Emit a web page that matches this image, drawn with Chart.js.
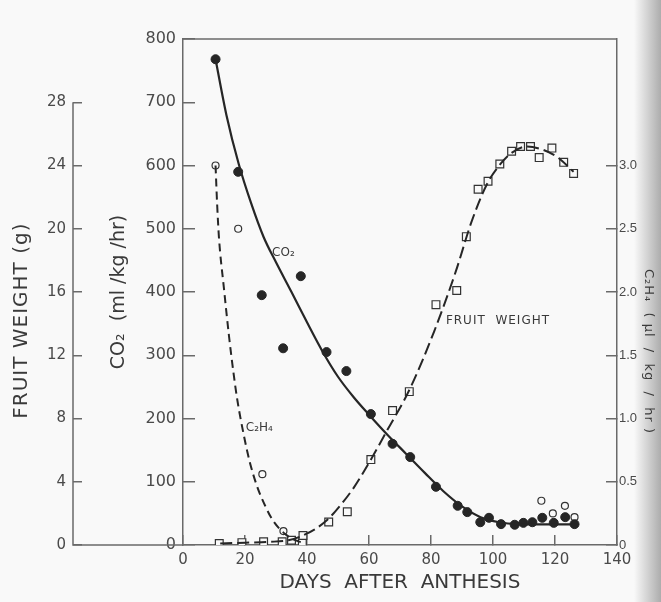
<!DOCTYPE html>
<html>
<head>
<meta charset="utf-8">
<script src="https://cdn.jsdelivr.net/npm/chart.js@4.4.0/dist/chart.umd.min.js"></script>
<style>
  html, body { margin: 0; padding: 0; background: #f9f9f9; }
  canvas { display: block; }
</style>
</head>
<body>
<canvas id="chart" width="661" height="602"></canvas>
<script>
// tick labels for each axis
const dayTicks = [0, 20, 40, 60, 80, 100, 120, 140];
const co2Ticks = [0, 100, 200, 300, 400, 500, 600, 700, 800];
const weightTicks = [0, 4, 8, 12, 16, 20, 24, 28];
const ethyleneTicks = [0, 0.5, 1.0, 1.5, 2.0, 2.5, 3.0];

// CO2 measurements (filled circles), ml/kg/hr
const co2Days = [10.5, 17.8, 25.4, 32.3, 38, 46.3, 52.7, 60.6, 67.6, 73.3, 81.6, 88.6, 91.7, 95.9, 98.7, 102.6, 107, 109.8, 112.7, 115.9, 119.6, 123.3, 126.3];
const co2Vals = [768, 590, 395, 311, 425, 305, 275, 207, 160, 139, 92, 62, 52, 36, 43, 33, 32, 35, 36, 43, 35, 44, 33];
// CO2 fitted curve
const co2CurveDays = [10.5, 14, 18, 22, 26, 30, 35, 40, 45, 50, 55, 60, 66, 72, 78, 84, 90, 96, 102, 108, 116, 127];
const co2CurveVals = [768, 680, 602, 540, 487, 447, 400, 352, 306, 266, 234, 206, 174, 144, 114, 85, 61, 44, 36, 33, 32.5, 32.5];

// C2H4 measurements (open circles), ul/kg/hr
const ethDays = [10.5, 17.8, 25.6, 32.4, 115.6, 119.3, 123.2, 126.3];
const ethVals = [3.0, 2.5, 0.56, 0.11, 0.35, 0.25, 0.31, 0.22];
// C2H4 fitted curve
const ethCurveDays = [10.5, 11, 11.6, 13.2, 14.8, 16.4, 17.5, 19.6, 21.5, 23.8, 26.5, 29.1, 33.3, 36, 39];
const ethCurveVals = [3.0, 2.7, 2.43, 2.03, 1.66, 1.34, 1.15, 0.87, 0.66, 0.47, 0.31, 0.19, 0.08, 0.04, 0.015];

// fruit weight (open squares), g
const weightDays = [11.7, 19, 26, 32, 35, 38.5, 38.7, 47, 53, 60.6, 67.6, 73, 81.6, 88.3, 91.4, 95.2, 98.4, 102.2, 106, 108.9, 112.1, 114.9, 119, 122.8, 126];
const weightVals = [0.1, 0.15, 0.2, 0.2, 0.3, 0.15, 0.6, 1.45, 2.1, 5.4, 8.5, 9.7, 15.2, 16.1, 19.5, 22.5, 23.0, 24.1, 24.9, 25.2, 25.2, 24.5, 25.1, 24.2, 23.5];
// fruit weight fitted curve
const weightCurveDays = [12, 20, 28, 34, 38, 43, 46, 49, 55, 60, 66, 73, 81, 88, 93, 98, 102, 106, 111, 116, 121, 126];
const weightCurveVals = [0.1, 0.15, 0.2, 0.3, 0.55, 1.05, 1.5, 2.1, 3.6, 5.2, 7.3, 9.8, 13.5, 17.3, 20.4, 22.8, 24.0, 24.8, 25.2, 25.0, 24.5, 23.6];

const paper = '#f9f9f9';
const ink = '#262626';
const axisGray = '#6a6a6a';
const labelGray = '#4a4a4a';

Chart.defaults.font.family = 'DejaVu Sans';

const toPoints = (xs, ys) => xs.map((x, i) => ({ x, y: ys[i] }));
const fixedTicks = list => scale => { scale.ticks = list.map(v => ({ value: v })); };

// paper background, top frame line, short fruit weight axis, extra titles and curve labels
const paperPlugin = {
  id: 'paper',
  beforeDraw(chart) {
    const { ctx, width, height } = chart;
    ctx.save();
    ctx.fillStyle = paper;
    ctx.fillRect(0, 0, width, height);
    const g = ctx.createLinearGradient(634, 0, width, 0);
    g.addColorStop(0, 'rgba(140,140,140,0)');
    g.addColorStop(1, 'rgba(140,140,140,0.7)');
    ctx.fillStyle = g;
    ctx.fillRect(634, 0, width - 634, height);
    ctx.restore();
  },
  afterDraw(chart) {
    const { ctx, chartArea: a, scales } = chart;
    const fw = scales.yFW;
    const eth = scales.yEth;
    const x = scales.x;
    ctx.save();
    ctx.strokeStyle = axisGray;
    ctx.lineWidth = 1.5;
    ctx.beginPath();
    ctx.moveTo(a.left, a.top);
    ctx.lineTo(a.right, a.top);
    ctx.stroke();

    ctx.beginPath();
    ctx.moveTo(fw.right, fw.getPixelForValue(28));
    ctx.lineTo(fw.right, fw.getPixelForValue(0));
    ctx.lineTo(a.left, fw.getPixelForValue(0));
    ctx.stroke();

    ctx.fillStyle = '#3a3a3a';
    ctx.textAlign = 'center';
    ctx.textBaseline = 'middle';

    // fruit weight title, centred on the 0-28 part of its axis
    ctx.save();
    ctx.translate(22, (fw.getPixelForValue(0) + fw.getPixelForValue(28)) / 2 - 3);
    ctx.rotate(-Math.PI / 2);
    ctx.font = '20px "DejaVu Sans"';
    ctx.letterSpacing = '1px';
    ctx.fillText('FRUIT WEIGHT (g)', 0, 0);
    ctx.restore();

    // C2H4 title on the right
    ctx.save();
    ctx.translate(648, eth.getPixelForValue(1.53));
    ctx.rotate(Math.PI / 2);
    ctx.font = '13px "DejaVu Sans"';
    ctx.letterSpacing = '1px';
    ctx.fillText('C\u2082H\u2084  ( \u00b5l  /  kg  /  hr )', 0, 0);
    ctx.restore();

    // curve labels
    ctx.font = '12px "DejaVu Sans"';
    ctx.fillText('CO\u2082', x.getPixelForValue(32.4), scales.yCO2.getPixelForValue(462));
    ctx.fillText('C\u2082H\u2084', x.getPixelForValue(24.6), eth.getPixelForValue(0.925));
    ctx.textAlign = 'left';
    ctx.letterSpacing = '1px';
    ctx.fillText('FRUIT  WEIGHT', x.getPixelForValue(84.8), fw.getPixelForValue(14.2));
    ctx.restore();
  }
};

const tickFont = size => ({ family: 'DejaVu Sans', size });

new Chart(document.getElementById('chart'), {
  type: 'scatter',
  data: {
    datasets: [
      {
        label: 'CO2 curve',
        data: toPoints(co2CurveDays, co2CurveVals),
        yAxisID: 'yCO2',
        showLine: true,
        pointRadius: 0,
        borderColor: ink,
        borderWidth: 2.2,
        cubicInterpolationMode: 'monotone'
      },
      {
        label: 'C2H4 curve',
        data: toPoints(ethCurveDays, ethCurveVals),
        yAxisID: 'yEth',
        showLine: true,
        pointRadius: 0,
        borderColor: ink,
        borderWidth: 2,
        borderDash: [8, 5],
        cubicInterpolationMode: 'monotone'
      },
      {
        label: 'Fruit weight curve',
        data: toPoints(weightCurveDays, weightCurveVals),
        yAxisID: 'yFW',
        showLine: true,
        pointRadius: 0,
        borderColor: ink,
        borderWidth: 2,
        borderDash: [12, 5],
        cubicInterpolationMode: 'monotone'
      },
      {
        label: 'CO2',
        data: toPoints(co2Days, co2Vals),
        yAxisID: 'yCO2',
        pointStyle: 'circle',
        pointRadius: 4.5,
        backgroundColor: ink,
        borderColor: ink,
        borderWidth: 1
      },
      {
        label: 'C2H4',
        data: toPoints(ethDays, ethVals),
        yAxisID: 'yEth',
        pointStyle: 'circle',
        pointRadius: 3.5,
        backgroundColor: paper,
        borderColor: '#333',
        borderWidth: 1.2
      },
      {
        label: 'Fruit weight',
        data: toPoints(weightDays, weightVals),
        yAxisID: 'yFW',
        pointStyle: 'rect',
        pointRadius: 5.5,
        backgroundColor: paper,
        borderColor: '#333',
        borderWidth: 1.2
      }
    ]
  },
  options: {
    responsive: false,
    devicePixelRatio: 1,
    animation: false,
    events: [],
    layout: { padding: { top: 39, left: 0, right: 0, bottom: 0 } },
    plugins: { legend: { display: false }, tooltip: { enabled: false } },
    scales: {
      x: {
        type: 'linear',
        position: 'bottom',
        min: 0,
        max: 140,
        afterBuildTicks: fixedTicks(dayTicks),
        afterFit: s => { s.height = 57; s.paddingLeft = 0; s.paddingRight = 0; },
        ticks: { color: labelGray, font: tickFont(15), padding: 16, autoSkip: false, maxRotation: 0 },
        grid: { drawOnChartArea: false, tickLength: -10, color: axisGray, lineWidth: 1.5 },
        border: { color: axisGray, width: 1.5 },
        title: {
          display: true,
          text: 'DAYS  AFTER  ANTHESIS',
          color: '#3a3a3a',
          font: { family: 'DejaVu Sans', size: 20 },
          padding: { top: 0, bottom: 7 }
        }
      },
      yCO2: {
        type: 'linear',
        position: 'left',
        weight: 0,
        min: 0,
        max: 800,
        afterBuildTicks: fixedTicks(co2Ticks),
        afterFit: s => { s.width = 110; s.paddingTop = 0; s.paddingBottom = 0; },
        ticks: { color: labelGray, font: tickFont(16), padding: 19, autoSkip: false },
        grid: { drawOnChartArea: false, tickLength: -12, color: axisGray, lineWidth: 1.5 },
        border: { color: axisGray, width: 1.5 },
        title: {
          display: true,
          text: 'CO\u2082  (ml /kg /hr)',
          color: '#3a3a3a',
          font: { family: 'DejaVu Sans', size: 19 },
          padding: { top: 35, bottom: 0 }
        }
      },
      yFW: {
        type: 'linear',
        position: 'left',
        weight: 1,
        min: 0,
        max: 32,
        afterBuildTicks: fixedTicks(weightTicks),
        afterFit: s => { s.width = 73; s.paddingTop = 0; s.paddingBottom = 0; },
        ticks: { color: labelGray, font: tickFont(15), padding: 16, autoSkip: false },
        grid: { drawOnChartArea: false, tickLength: -9, color: axisGray, lineWidth: 1.5 },
        border: { display: false }
      },
      yEth: {
        type: 'linear',
        position: 'right',
        min: 0,
        max: 4,
        afterBuildTicks: fixedTicks(ethyleneTicks),
        afterFit: s => { s.width = 44; s.paddingTop = 0; s.paddingBottom = 0; },
        ticks: {
          color: labelGray,
          font: { family: 'Liberation Sans', size: 13 },
          padding: 13,
          autoSkip: false,
          callback: v => (v === 0 ? '0' : v.toFixed(1))
        },
        grid: { drawOnChartArea: false, tickLength: -11, color: axisGray, lineWidth: 1.5 },
        border: { color: axisGray, width: 1.5 }
      }
    }
  },
  plugins: [paperPlugin]
});
</script>
</body>
</html>
